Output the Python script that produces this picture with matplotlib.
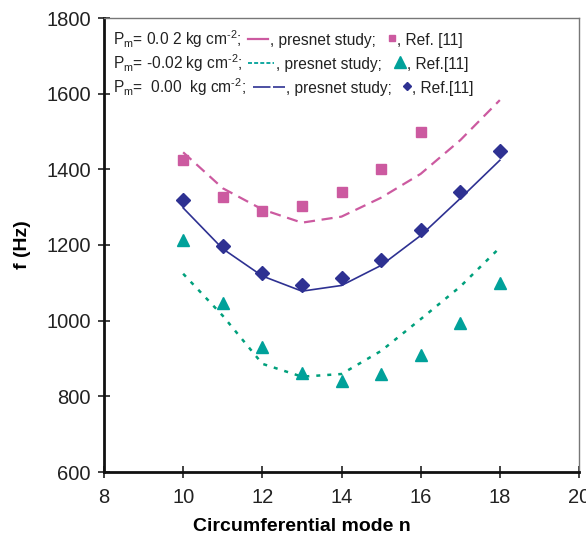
import matplotlib
matplotlib.use("Agg")
import matplotlib.pyplot as plt
from matplotlib.offsetbox import TextArea, DrawingArea, HPacker, AnchoredOffsetbox
from matplotlib.lines import Line2D

plt.rcParams['font.family'] = ['Liberation Sans', 'DejaVu Sans']
plt.rcParams['mathtext.fontset'] = 'custom'
plt.rcParams['mathtext.rm'] = 'Liberation Sans'
plt.rcParams['mathtext.it'] = 'Liberation Sans'

# ---- data ----
n_curve = [10, 11, 12, 13, 14, 15, 16, 17, 18]
f_pos_study = [1445, 1350, 1294, 1259, 1275, 1325, 1388, 1477, 1583]   # Pm = 0.02
f_neg_study = [1124, 1013, 886, 852, 859, 920, 1004, 1090, 1193]       # Pm = -0.02
f_zero_study = [1298, 1190, 1118, 1078, 1093, 1146, 1225, 1323, 1424]  # Pm = 0.00

n_ref_pos = [10, 11, 12, 13, 14, 15, 16]
f_ref_pos = [1424, 1328, 1290, 1302, 1341, 1400, 1500]
n_ref_neg = [10, 11, 12, 13, 14, 15, 16, 17, 18]
f_ref_neg = [1212, 1046, 931, 861, 841, 859, 909, 995, 1099]
n_ref_zero = [10, 11, 12, 13, 14, 15, 16, 17, 18]
f_ref_zero = [1318, 1197, 1125, 1095, 1113, 1161, 1240, 1339, 1448]

xticks = [8, 10, 12, 14, 16, 18, 20]
yticks = [600, 800, 1000, 1200, 1400, 1600, 1800]

SUP = '$^{\\mathregular{\u20102}}$'
legend_texts = [
    ('P$_\\mathregular{m}$= 0.0 2 kg cm' + SUP + ';', ', presnet study;', ', Ref. [11]'),
    ('P$_\\mathregular{m}$= -0.02 kg cm' + SUP + ';', ', presnet study;', ', Ref.[11]'),
    ('P$_\\mathregular{m}$=  0.00  kg cm' + SUP + ';', ', presnet study;', ', Ref.[11]'),
]

pink = '#cc5aa0'
blue = '#2e3192'
teal = '#00a19a'
green = '#00a07c'
txtc = '#222222'

fig = plt.figure(figsize=(5.86, 5.34), dpi=100)
ax = fig.add_axes([104/586, 1-472/534, (579-104)/586, (472-18)/534])

pink_style = dict(color=pink, lw=1.6, dashes=(5, 3))
blue_style = dict(color=blue, lw=1.2)
green_style = dict(color=green, lw=1.8, dashes=(1.6, 2.8))

ax.plot(n_curve, f_pos_study, zorder=2, **pink_style)
ax.plot(n_curve, f_zero_study, zorder=2, **blue_style)
ax.plot(n_curve, f_neg_study, zorder=2, **green_style)

pink_mk = dict(ls='none', marker='s', ms=7.5, color=pink)
teal_mk = dict(ls='none', marker='^', ms=8.5, color=teal)
blue_mk = dict(ls='none', marker='D', ms=7.5, color=blue)
ax.plot(n_ref_pos, f_ref_pos, zorder=3, **pink_mk)
ax.plot(n_ref_neg, f_ref_neg, zorder=3, **teal_mk)
ax.plot(n_ref_zero, f_ref_zero, zorder=3, **blue_mk)

ax.set_xlim(8, 20)
ax.set_ylim(600, 1800)
ax.set_xticks(xticks)
ax.set_yticks(yticks)
ax.tick_params(direction='inout', length=8, width=1.2, labelsize=14.5, colors='#222222')
ax.tick_params(axis='y', pad=5.5)
ax.tick_params(axis='x', pad=7.5)
for s in ['left', 'bottom']:
    ax.spines[s].set_linewidth(2.0)
    ax.spines[s].set_color('#111111')
for s in ['top', 'right']:
    ax.spines[s].set_linewidth(1.0)
    ax.spines[s].set_color('#777777')

ax.set_xlabel('Circumferential mode n', fontsize=14, fontweight='bold', labelpad=8)
ax.xaxis.set_label_coords((302 - 104) / 475, -0.102)
ax.set_ylabel('f (Hz)', fontsize=14, fontweight='bold', labelpad=11)

# ---- inline legend ----
fs = 11.2
PX = 72 / 100.0  # points per pixel
line_styles = [
    dict(color=pink, lw=1.6),
    dict(color=teal, lw=1.3, dashes=(2.2, 1.2)),
    dict(color=blue, lw=1.2, dashes=(10.5, 1.5)),
]
# (gap before, sample length, gap after) in pixels
line_geom = [(6, 20, 2), (6, 26, 2), (7, 32, 1.5)]
# (gap before, marker width, gap after) in pixels
mk_geom = [(13, 7, 2), (12, 12, 1), (10, 9, 1)]
mk_styles = [
    dict(marker='s', ms=5, color=pink),
    dict(marker='^', ms=9, color=teal),
    dict(marker='D', ms=4, color=blue),
]
tops_px = [28, 52, 76]
for i, (t1, t2, t3) in enumerate(legend_texts):
    g0, L, g1 = line_geom[i]
    ta1 = TextArea(t1, textprops=dict(fontsize=fs, color=txtc))
    da1 = DrawingArea((g0 + L + g1) * PX, 8, 0, 0)
    da1.add_artist(Line2D([g0 * PX, (g0 + L) * PX], [4, 4], **line_styles[i]))
    ta2 = TextArea(t2, textprops=dict(fontsize=fs, color=txtc))
    m0, mw, m1 = mk_geom[i]
    da2 = DrawingArea((m0 + mw + m1) * PX, 9, 0, 0)
    da2.add_artist(Line2D([(m0 + mw / 2) * PX], [4.5], ls='none', **mk_styles[i]))
    ta3 = TextArea(t3, textprops=dict(fontsize=fs, color=txtc))
    box = HPacker(children=[ta1, da1, ta2, da2, ta3], align='baseline', pad=0, sep=0)
    anc = AnchoredOffsetbox(loc='upper left', child=box, pad=0, borderpad=0, frameon=False,
                            bbox_to_anchor=((113 - 104) / 475, 1 - (tops_px[i] - 18) / 454),
                            bbox_transform=ax.transAxes)
    ax.add_artist(anc)

fig.savefig('out.png', dpi=100)
